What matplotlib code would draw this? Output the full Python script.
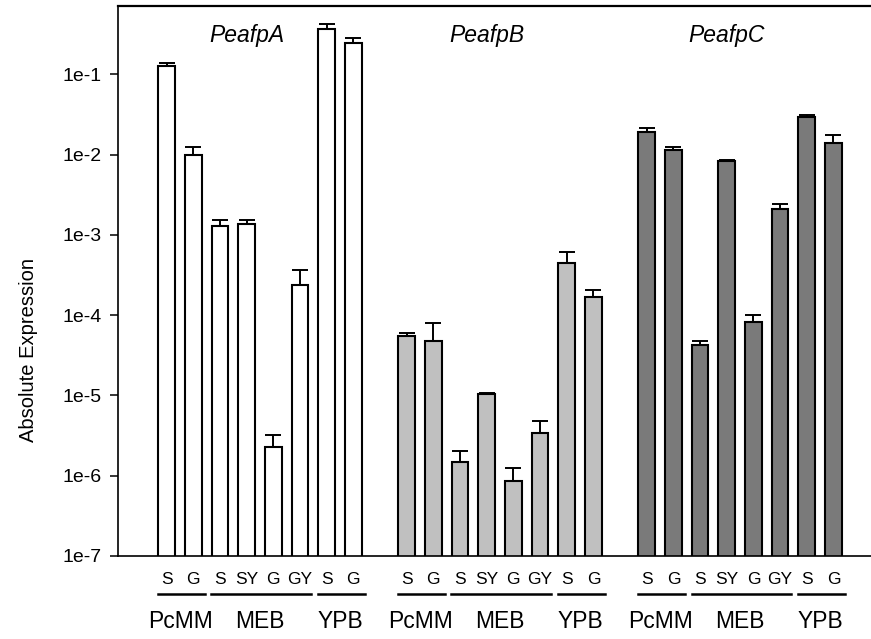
import numpy as np
import matplotlib
matplotlib.use("Agg")
import matplotlib.pyplot as plt

plt.rcParams['font.family'] = ['Liberation Sans', 'DejaVu Sans']

# === Data ===
genes = ["PeafpA", "PeafpB", "PeafpC"]
conditions = ["S", "G", "S", "SY", "G", "GY", "S", "G"]
media = ["PcMM", "MEB", "YPB"]
media_span = [(0, 1), (2, 5), (6, 7)]   # first/last bar index of each medium

peafpA = [0.127, 0.0099, 1.30e-3, 1.35e-3, 2.30e-6, 2.38e-4, 0.366, 0.243]
peafpA_err = [0.012, 0.0024, 0.23e-3, 0.18e-3, 0.92e-6, 1.28e-4, 0.054, 0.037]
peafpB = [5.56e-5, 4.81e-5, 1.50e-6, 1.045e-5, 8.6e-7, 3.37e-6, 4.51e-4, 1.70e-4]
peafpB_err = [0.49e-5, 3.11e-5, 0.56e-6, 0.035e-5, 4.0e-7, 1.47e-6, 1.67e-4, 0.34e-4]
peafpC = [0.0193, 0.0114, 4.30e-5, 8.31e-3, 8.3e-5, 2.08e-3, 0.0297, 0.0141]
peafpC_err = [0.0023, 0.0011, 0.51e-5, 0.19e-3, 1.7e-5, 0.37e-3, 0.0011, 0.0033]

values = [peafpA, peafpB, peafpC]
errors = [peafpA_err, peafpB_err, peafpC_err]
colors = ["white", "#c0c0c0", "#7a7a7a"]

yticks = [1e-7, 1e-6, 1e-5, 1e-4, 1e-3, 1e-2, 1e-1]
yticklabels = ["1e-7", "1e-6", "1e-5", "1e-4", "1e-3", "1e-2", "1e-1"]

# === Plot ===
fig = plt.figure(figsize=(8.71, 6.39), dpi=100)
ax = fig.add_axes([118 / 871, 83 / 639, 1 - 118 / 871, 550 / 639])

n = len(conditions)
for g, (vals, errs, col) in enumerate(zip(values, errors, colors)):
    x = np.arange(n) + g * (n + 1)
    ax.bar(x, vals, width=0.625, color=col, edgecolor="black", linewidth=1.5, zorder=2)
    ax.errorbar(x, vals, yerr=[np.zeros(n), errs], fmt="none", ecolor="black",
                elinewidth=1.4, capsize=6, capthick=1.4, zorder=3)
    ax.text(x[3], 0.947, genes[g], transform=ax.get_xaxis_transform(),
            ha="center", va="center", fontsize=16.5, style="italic")
    for xi, lab in zip(x, conditions):
        ax.text(xi, -0.042, lab, transform=ax.get_xaxis_transform(),
                ha="center", va="center", fontsize=12.5)
    for (a, b), m in zip(media_span, media):
        ax.plot([x[a] - 0.32, x[b] + 0.42], [-0.069, -0.069], color="black", lw=1.8,
                transform=ax.get_xaxis_transform(), clip_on=False)
        ax.text((x[a] + x[b]) / 2, -0.12, m, transform=ax.get_xaxis_transform(),
                ha="center", va="center", fontsize=16.5)

ax.set_yscale("log")
ax.set_ylim(1e-7, 0.71)
ax.set_xlim(-1.825, 26.41)
ax.set_yticks(yticks)
ax.set_yticklabels(yticklabels, fontsize=14)
ax.yaxis.set_minor_locator(matplotlib.ticker.NullLocator())
ax.tick_params(axis="y", direction="out", length=6, width=1.1, pad=6)
ax.set_xticks([])

ax.spines["right"].set_visible(False)
ax.spines["left"].set_linewidth(1.2)
ax.spines["bottom"].set_linewidth(1.2)
ax.spines["top"].set_linewidth(1.6)

fig.text(28 / 871, 1 - 350 / 639, "Absolute Expression", rotation=90,
         ha="center", va="center", fontsize=14.5)

fig.savefig("out.png", dpi=100)
